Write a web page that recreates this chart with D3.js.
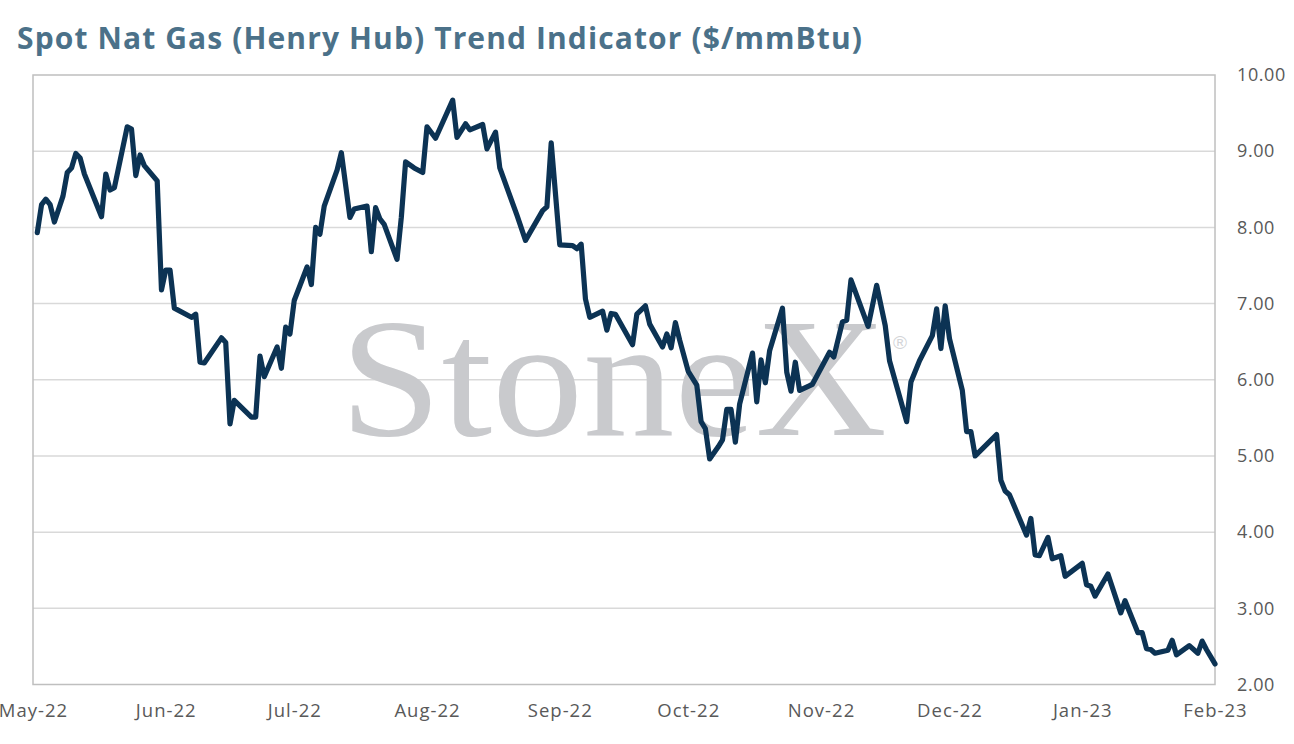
<!DOCTYPE html>
<html>
<head>
<meta charset="utf-8">
<script src="https://cdn.jsdelivr.net/npm/d3@7"></script>
<style>
  body { margin: 0; background: #fff; }
  svg { display: block; }
</style>
</head>
<body>
<svg width="1294" height="744"></svg>
<script>
let svg = d3.select("svg");

// Henry Hub spot
let dates = [
  "2022-05-02","2022-05-03","2022-05-04","2022-05-05","2022-05-06","2022-05-08","2022-05-09","2022-05-10","2022-05-11","2022-05-12","2022-05-13","2022-05-17","2022-05-18","2022-05-19","2022-05-20","2022-05-23","2022-05-24","2022-05-25","2022-05-26","2022-05-27","2022-05-30","2022-05-31",
  "2022-06-01","2022-06-02","2022-06-03","2022-06-07","2022-06-08","2022-06-09","2022-06-10","2022-06-14","2022-06-15","2022-06-16","2022-06-17","2022-06-21","2022-06-22","2022-06-23","2022-06-24","2022-06-27","2022-06-28","2022-06-29","2022-06-30",
  "2022-07-01","2022-07-04","2022-07-05","2022-07-06","2022-07-07","2022-07-08","2022-07-11","2022-07-12","2022-07-14","2022-07-15","2022-07-18","2022-07-19","2022-07-20","2022-07-21","2022-07-22","2022-07-25","2022-07-26","2022-07-27","2022-07-29","2022-07-31",
  "2022-08-01","2022-08-03","2022-08-07","2022-08-08","2022-08-10","2022-08-11","2022-08-14","2022-08-15","2022-08-17","2022-08-18","2022-08-22","2022-08-24","2022-08-28","2022-08-29","2022-08-30",
  "2022-09-01","2022-09-04","2022-09-05","2022-09-06","2022-09-07","2022-09-08","2022-09-11","2022-09-12","2022-09-13","2022-09-14","2022-09-18","2022-09-19","2022-09-21","2022-09-22","2022-09-25","2022-09-26","2022-09-27","2022-09-28","2022-09-29",
  "2022-10-01","2022-10-03","2022-10-04","2022-10-05","2022-10-06","2022-10-08","2022-10-09","2022-10-10","2022-10-11","2022-10-12","2022-10-13","2022-10-16","2022-10-17","2022-10-18","2022-10-19","2022-10-20","2022-10-23","2022-10-24","2022-10-25","2022-10-26","2022-10-27","2022-10-30",
  "2022-11-03","2022-11-04","2022-11-06","2022-11-07","2022-11-08","2022-11-12","2022-11-14","2022-11-16","2022-11-17","2022-11-21","2022-11-22","2022-11-24","2022-11-27","2022-11-28","2022-11-29","2022-11-30",
  "2022-12-01","2022-12-04","2022-12-05","2022-12-06","2022-12-07","2022-12-12","2022-12-13","2022-12-14","2022-12-15","2022-12-19","2022-12-20","2022-12-21","2022-12-22","2022-12-24","2022-12-25","2022-12-27","2022-12-28",
  "2023-01-01","2023-01-02","2023-01-03","2023-01-04","2023-01-07","2023-01-10","2023-01-11","2023-01-14","2023-01-15","2023-01-16","2023-01-17","2023-01-18","2023-01-21","2023-01-22","2023-01-23","2023-01-26","2023-01-28","2023-01-29","2023-01-30",
  "2023-02-01"
];

let prices = [
  7.93, 8.30, 8.37, 8.30, 8.07, 8.41, 8.72, 8.78, 8.97, 8.91, 8.70, 8.14, 8.70, 8.49, 8.52, 9.32, 9.29, 8.68, 8.95, 8.81, 8.61, 7.18,
  7.44, 7.44, 6.94, 6.82, 6.86, 6.23, 6.22, 6.55, 6.49, 5.42, 5.73, 5.51, 5.51, 6.31, 6.04, 6.43, 6.15, 6.69, 6.60,
  7.04, 7.48, 7.25, 8.00, 7.91, 8.28, 8.75, 8.98, 8.13, 8.24, 8.28, 7.68, 8.26, 8.11, 8.04, 7.58, 8.13, 8.86, 8.78, 8.72,
  9.32, 9.17, 9.67, 9.18, 9.36, 9.28, 9.35, 9.03, 9.25, 8.78, 8.16, 7.83, 8.22, 8.27, 9.11,
  7.77, 7.76, 7.72, 7.78, 7.06, 6.82, 6.90, 6.65, 6.87, 6.86, 6.46, 6.86, 6.97, 6.73, 6.43, 6.60, 6.42, 6.75, 6.52,
  6.11, 5.93, 5.45, 5.36, 4.96, 5.12, 5.21, 5.61, 5.61, 5.18, 5.68, 6.35, 5.71, 6.26, 5.96, 6.38, 6.94, 6.10, 5.85, 6.23, 5.86, 5.94,
  6.36, 6.30, 6.76, 6.78, 7.31, 6.70, 7.24, 6.71, 6.25, 5.45, 5.97, 6.25, 6.58, 6.93, 6.41, 6.97,
  6.54, 5.86, 5.32, 5.32, 5.00, 5.28, 4.68, 4.54, 4.49, 3.96, 4.18, 3.70, 3.69, 3.93, 3.65, 3.69, 3.42,
  3.59, 3.31, 3.29, 3.16, 3.45, 2.94, 3.10, 2.68, 2.68, 2.47, 2.46, 2.41, 2.45, 2.58, 2.39, 2.51, 2.41, 2.57, 2.46,
  2.27
];

let yTicks = [2, 3, 4, 5, 6, 7, 8, 9, 10];
let monthTicks = ["2022-05-01","2022-06-01","2022-07-01","2022-08-01","2022-09-01","2022-10-01","2022-11-01","2022-12-01","2023-01-01","2023-02-01"];

let titleText = "Spot Nat Gas (Henry Hub) Trend Indicator ($/mmBtu)";

let plotLeft = 33, plotRight = 1215, plotTop = 75, plotBottom = 684.5;
let parse = d3.utcParse("%Y-%m-%d");
let fmtMonth = d3.utcFormat("%b-%y");
let labelFont = "'Open Sans', Lato, sans-serif";

let x = d3.scaleUtc()
    .domain([parse(monthTicks[0]), parse(monthTicks[monthTicks.length - 1])])
    .range([plotLeft, plotRight]);
let y = d3.scaleLinear().domain([2, 10]).range([plotBottom, plotTop]);

let data = dates.map((d, i) => ({date: parse(d), value: prices[i]}));

// title
svg.append("text")
    .attr("x", 17)
    .attr("y", 49)
    .attr("fill", "#4b7189")
    .attr("textLength", 845)
    .attr("lengthAdjust", "spacing")
    .style("font-family", labelFont)
    .style("font-weight", 700)
    .style("font-size", "30px")
    .text(titleText);

// gridlines
svg.append("g")
    .selectAll("line")
    .data(yTicks.filter(t => t > 2 && t < 10))
    .join("line")
    .attr("x1", plotLeft).attr("x2", plotRight)
    .attr("y1", d => y(d)).attr("y2", d => y(d))
    .attr("stroke", "#d9d9d9")
    .attr("stroke-width", 1.5);

// watermark
svg.append("text")
    .attr("x", 340)
    .attr("y", 435)
    .attr("fill", "#c9cacd")
    .attr("textLength", 547)
    .attr("lengthAdjust", "spacingAndGlyphs")
    .style("font-family", "'Liberation Serif', 'Times New Roman', serif")
    .style("font-size", "170px")
    .text("StoneX");
svg.append("text")
    .attr("x", 900)
    .attr("y", 349)
    .attr("text-anchor", "middle")
    .attr("fill", "#d3d4d7")
    .style("font-family", "'Liberation Sans', Arial, sans-serif")
    .style("font-size", "19px")
    .text("\u00AE");

// plot frame
svg.append("rect")
    .attr("x", plotLeft).attr("y", plotTop)
    .attr("width", plotRight - plotLeft).attr("height", plotBottom - plotTop)
    .attr("fill", "none")
    .attr("stroke", "#bfbfbf")
    .attr("stroke-width", 1.5);

// series
let line = d3.line().x(d => x(d.date)).y(d => y(d.value));
svg.append("path")
    .datum(data)
    .attr("d", line)
    .attr("fill", "none")
    .attr("stroke", "#0c3354")
    .attr("stroke-width", 5.2)
    .attr("stroke-linejoin", "round")
    .attr("stroke-linecap", "round");

// right axis
let yAxis = svg.append("g")
    .attr("transform", `translate(${plotRight},0)`)
    .call(d3.axisRight(y).tickValues(yTicks).tickFormat(d3.format(".2f")).tickSize(0).tickPadding(22));
yAxis.select(".domain").remove();
yAxis.selectAll("text")
    .attr("fill", "#595959")
    .style("font-family", labelFont)
    .style("font-size", "18px")
    .style("letter-spacing", "0.6px");

// bottom axis
let xAxis = svg.append("g")
    .attr("transform", `translate(0,${plotBottom})`)
    .call(d3.axisBottom(x).tickValues(monthTicks.map(parse)).tickFormat(fmtMonth).tickSize(0).tickPadding(19));
xAxis.select(".domain").remove();
xAxis.selectAll("text")
    .attr("fill", "#595959")
    .style("font-family", labelFont)
    .style("font-size", "18.5px")
    .style("letter-spacing", "1px");
</script>
</body>
</html>
